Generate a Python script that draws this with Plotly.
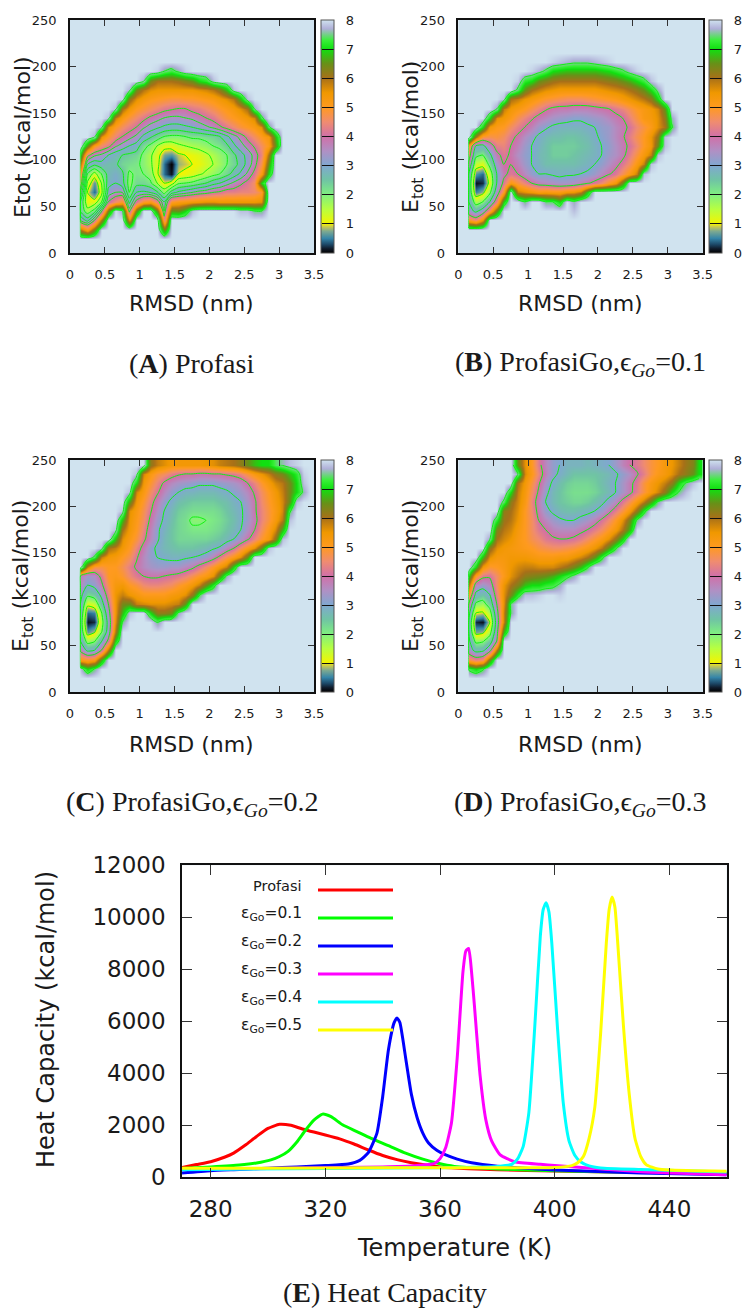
import plotly.graph_objects as go

W, H = 742, 1310
EMPTY = 8.0
RMSD_BINS = [0.14, 0.15, 0.25, 0.35, 0.45, 0.55, 0.65, 0.75, 0.85, 0.95, 1.05, 1.15, 1.25, 1.35, 1.45, 1.55, 1.65, 1.75,
             1.85, 1.95, 2.05, 2.15, 2.25, 2.35, 2.45, 2.55, 2.65, 2.75, 2.85, 2.95, 3.05, 3.15, 3.25, 3.35, 3.45]
ETOT_BINS = [5, 15, 25, 35, 45, 55, 65, 75, 85, 95, 105, 115, 125, 135, 145, 155, 165, 175, 185, 195, 205, 215, 225, 235, 245]

# free energy rows: Etot bin -> (first RMSD column, values)
A_ROWS = {
    195: (12, [7.9,7.5,7.3,7.6,7.9]),
    185: (10, [7.7,6.4,6,6,6,6.1,6.3,6.5,7,7.2,7.8]),
    175: (8, [7.7,6.4,5.9,5.6,5.5,5.5,5.5,5.5,5.5,5.5,5.6,5.7,5.9,6.2,6.8,7.8]),
    165: (7, [7.9,6.2,5.6,5.3,5.1,5,4.9,4.8,4.8,4.9,4.9,5,5.1,5.2,5.4,5.6,5.9,6.8,7.8]),
    155: (6, [7.8,6,5.4,5,4.8,4.6,4.4,4.2,4.1,4,4,4.2,4.3,4.5,4.7,4.9,5.1,5.3,5.6,6,7.6]),
    145: (5, [7.8,5.8,5.2,4.8,4.5,4.2,3.9,3.7,3.5,3.4,3.4,3.5,3.6,3.8,4,4.2,4.5,4.8,5,5.2,5.4,5.7,7.4]),
    135: (4, [7.7,5.6,5,4.6,4.3,4,3.6,3.3,3.1,2.9,2.8,2.8,2.9,3,3.2,3.4,3.6,3.9,4.2,4.5,4.8,5,5.2,5.6,7.4]),
    125: (3, [7.7,5.5,4.9,4.4,4,3.7,3.4,2.9,2.6,2.3,2,1.9,1.9,2,2.1,2.1,2.2,2.3,2.5,2.9,3.3,3.7,4.2,4.6,5,5.3,6.8]),
    115: (2, [6.5,5,4.5,4.2,3.6,3.3,3,2.8,2.2,1.9,1.5,1.2,1.2,1.4,1.5,1.6,1.7,1.8,2,2.1,2.4,2.9,3.3,3.7,4.1,4.6,5.1,6.5]),
    105: (1, [7,4.2,3.6,3.4,3,2.7,2.5,2.4,2.3,1.9,1.6,1.2,0.7,0.6,0.9,1,1.1,1.2,1.4,1.6,1.8,2,2.4,2.8,3.2,3.7,4.4,6]),
    95: (1, [6,3,2.6,2.8,2.6,2.6,2.3,2.2,2.1,1.9,1.6,1.2,0.4,0,0.8,0.9,1,1.1,1.3,1.5,1.7,2,2.3,2.7,3.2,3.8,4.7,6.5]),
    85: (1, [5,2,1.3,2,2.7,2.9,2.6,1.9,2.1,2,1.8,1.1,0.4,0.1,1,1.1,1.2,1.4,1.6,1.8,2,2.3,2.7,3.1,3.6,4.2,5.2,7]),
    75: (1, [4.5,1.4,0.6,1.5,2.8,3,2.7,1.8,2.3,2.3,2.1,1.5,1,1.2,1.9,2,2.1,2.3,2.5,2.8,3,3.3,3.6,3.9,4.2,4.6,7]),
    65: (1, [3.5,1,0.4,1.3,3.2,3.5,3.5,2,3,3.1,3,2.6,1.8,2.7,3.1,3.3,3.5,3.7,3.8,4,4.1,4.3,4.3,4.4,4.4,4.5,4.9]),
    55: (1, [2.5,1.1,1.2,1.9,4,4.6,5,2.8,4.2,5,5.2,4.4,3,5,5.2,5.3,5.4,5.5,5.6,5.6,5.5,5.5,5.5,5.5,5.5,5.5,5.6]),
    45: (1, [2.4,1.7,2.2,3.8,6.5,8,7.6,3.8,6.5,8,8,6.4,3.5,6.6,6.5,7,7.8,8,8,8,8,8,8,7.8,7.8,7.5,7.5]),
    35: (1, [3.5,2.8,4,6,8,8,8,5.5,8,8,8,8,4.4,8]),
    25: (1, [6,5.2,6.5,8,8,8,8,8,8,8,8,8,6.5,8]),
}
B_ROWS = {
    205: (13, [7.9,7.8,7.7,7.6,7.6,7.6,7.7,7.8,7.9]),
    195: (10, [7.9,7.7,7.4,7,6.9,6.8,6.8,6.8,6.8,6.8,6.9,7,7.2,7.4,7.7,7.9]),
    185: (8, [7.9,7.2,7,6.5,6.3,6.1,6,6,6,6,6,6,6.1,6.2,6.3,6.5,6.7,7,7.3,7.8]),
    175: (8, [7.4,6.5,6,5.8,5.6,5.5,5.4,5.4,5.4,5.4,5.4,5.4,5.5,5.6,5.7,5.8,6,6.2,6.5,7,7.6]),
    165: (6, [7.8,6,5.8,5.5,5.3,5.1,4.9,4.8,4.7,4.6,4.6,4.6,4.7,4.8,4.9,5,5.1,5.3,5.5,5.7,5.9,6.2,7]),
    155: (5, [7.6,5.8,5.4,5.2,5,4.7,4.4,4.1,3.9,3.8,3.8,3.7,3.7,3.7,3.8,3.9,4,4.2,4.4,4.7,5,5.2,5.4,5.7,6.5]),
    145: (4, [7,5.6,5.4,5.1,4.7,4.4,4.1,3.8,3.6,3.4,3.3,3.2,3.1,3.1,3.2,3.3,3.4,3.6,3.8,4,4.4,4.8,5.2,5.3,5.6,6.2,7.6]),
    135: (3, [7,5.4,5.1,5,4.6,4.3,4,3.7,3.3,3.1,2.9,2.8,2.8,2.8,2.8,2.9,3,3.2,3.3,3.6,3.8,4.1,4.5,4.8,5.1,5.6,6,7.4]),
    125: (2, [6,4.8,4.7,4.8,4.6,4.2,3.9,3.5,3.2,2.9,2.7,2.6,2.6,2.5,2.5,2.6,2.7,2.9,3.1,3.3,3.6,3.9,4.3,4.7,5,5.5,6.2,7.8]),
    115: (1, [5,3,2.8,3.6,4.3,4.4,4,3.7,3.3,3,2.8,2.6,2.4,2.4,2.4,2.4,2.5,2.6,2.8,3,3.2,3.5,3.8,4.1,4.5,5,5.4,6.5,7.8]),
    105: (1, [4.5,2.2,2,2.8,3.8,4.2,3.9,3.5,3.2,3,2.7,2.6,2.4,2.4,2.4,2.5,2.6,2.7,2.8,3,3.3,3.5,3.8,4.3,4.8,5.3,5.8,7.8]),
    95: (1, [3.8,1.4,1.2,2.2,3.4,4,4,3.7,3.3,3,2.8,2.6,2.6,2.6,2.6,2.6,2.7,2.8,3,3.2,3.5,3.8,4.2,4.6,5.2,5.8,7.8]),
    85: (1, [3,0.6,0.4,1.5,3,3.8,4.2,4,3.6,3.2,3,3,2.9,2.8,2.9,2.9,3,3.1,3.3,3.6,3.9,4.2,4.7,5.2,5.8,7.8]),
    75: (1, [2.8,0.1,0.2,1.2,3,4.2,5.2,4.8,4.4,4,3.7,3.6,3.5,3.4,3.4,3.5,3.7,3.9,4.2,4.5,5,5.4,6.5,8]),
    65: (1, [2.8,0.5,0.8,1.8,3.5,5,8,5.8,5.6,5.4,5.2,5.3,5.2,5.2,5.4,5.5,5.8,7,8]),
    55: (1, [3,1.6,2,3,4.5,7,8,8,7.5,8,8,7.5,7.5,7,8,7.6,8]),
    45: (1, [3.4,2.8,3.4,4.8,6.5,8,8,8,8,8,8,8,8,8,8,7.8]),
    35: (1, [5,4.5,5.5,8]),
}
C_ROWS = {
    245: (11, [6.2,5.8,5.6,5.4,5.4,5.4,5.4,5.4,5.5,5.6,5.8,5.9,6,6.2,6.5,6.8,7,7,7.4,7.6,7.8,7.9]),
    235: (9, [7.8,5.7,5.2,4.8,4.6,4.3,4.1,4,4,3.9,3.9,4,4,4.1,4.2,4.4,4.8,5.2,5.5,5.8,6.2,6.4,6.8,7.2,7.9]),
    225: (9, [7,5.4,4.9,4.4,3.9,3.6,3.4,3.3,3.2,3.1,3.1,3.1,3.2,3.3,3.4,3.6,4,4.4,4.9,5.3,5.7,5.9,6.4,7,7.8]),
    215: (8, [7.8,5.7,5.2,4.6,4.1,3.6,3.2,3,2.8,2.8,2.7,2.7,2.7,2.8,2.9,3.1,3.3,3.6,4.1,4.6,5,5.4,5.8,6.4,7,7.6]),
    205: (8, [6.6,5.4,4.9,4.3,3.7,3.2,2.9,2.6,2.5,2.4,2.4,2.4,2.4,2.5,2.6,2.8,3,3.4,3.9,4.5,4.9,5.3,5.7,6.5,7.8]),
    195: (7, [7.8,5.6,5.2,4.7,4.1,3.5,3,2.7,2.4,2.3,2.2,2.2,2.2,2.2,2.3,2.5,2.7,2.9,3.3,3.9,4.4,4.8,5.2,5.7,7.4,8]),
    185: (7, [6.8,5.5,5.1,4.6,3.9,3.3,2.9,2.6,2.3,2.2,1.9,1.9,2,2.1,2.2,2.4,2.6,2.9,3.3,3.8,4.4,4.8,5.3,5.9,7.8]),
    175: (6, [7.8,6,5.4,5,4.4,3.7,3.1,2.8,2.5,2.3,2.2,2.1,2.1,2.1,2.2,2.3,2.5,2.7,3,3.5,4,4.6,5.1,5.7,6.8]),
    165: (6, [6.8,5.6,5.2,4.8,4.2,3.6,3.1,2.7,2.5,2.3,2.3,2.3,2.3,2.3,2.4,2.5,2.7,3,3.4,3.9,4.4,4.9,5.3,6.2,7.8]),
    155: (4, [7.8,6,5.8,5.4,5,4.4,3.8,3.2,2.9,2.7,2.6,2.5,2.5,2.5,2.6,2.7,2.9,3.1,3.6,4,4.6,5.1,5.6,6.5,7.8]),
    145: (3, [7.4,5.8,5.4,5.3,5,4.7,4.1,3.6,3.2,3,2.9,2.8,2.8,2.9,3,3.1,3.3,3.7,4.2,4.7,5.1,5.6,6.5,8]),
    135: (2, [5.8,4.8,4.8,5,5,4.7,4.3,3.9,3.6,3.4,3.3,3.3,3.4,3.4,3.6,3.8,4.2,4.6,5,5.4,5.8,7,8]),
    125: (1, [3.8,3.3,3.5,4.2,5,5.1,4.9,4.5,4.2,4,3.9,3.9,4,4.1,4.2,4.4,4.7,5,5.2,5.6,6.5,7.6]),
    115: (1, [3.6,3,3.2,3.8,4.8,5.3,5.4,5,4.8,4.5,4.4,4.4,4.5,4.6,4.9,5.1,5.4,5.8,6.5,7.2,8]),
    105: (1, [3.3,2.2,2.4,3.2,4.4,5.5,5.8,5.5,5.3,5.1,5.1,5.1,5.1,5.3,5.4,5.6,6.2,7.4,8]),
    95: (1, [3,1.2,1.4,2.6,4,5.5,6.4,6.5,5.8,5.7,5.6,5.6,5.6,5.7,5.8,6.6,8]),
    85: (1, [2.8,0.4,0.5,1.9,3.6,5.5,6.8,7.8,8,8,7,6.2,6.2,6.4,7.6,8]),
    75: (1, [2.6,0.1,0.2,1.6,3.3,5.6,7.5,8,8,8,8,7.5,8,8,8]),
    65: (1, [2.7,0.6,0.9,1.9,3.4,6,8]),
    55: (1, [3,1.7,1.9,2.9,4.2,7,8]),
    45: (1, [3.8,2.8,3,4,6]),
    35: (1, [5.2,5,5.2,6.8,8]),
    25: (1, [7.8,7,7.5,8]),
}
D_ROWS = {
    245: (8, [6.5,5.6,5,4.2,3.6,3.2,3,2.8,2.8,2.8,2.7,2.8,2.9,3,3.3,3.7,4,4.2,4.5,4.8,5,5.3,5.5,5.8,6.1,6.3,7]),
    235: (8, [7.6,5.7,5.1,4.4,3.7,3.2,2.9,2.7,2.5,2.5,2.5,2.5,2.6,2.7,2.9,3.2,3.5,3.9,4.3,4.8,5.1,5.3,5.6,6,6.2,6.5,7]),
    225: (7, [8,6,5.4,4.8,4.1,3.4,2.9,2.6,2.4,2.3,2.3,2.3,2.4,2.6,2.8,3,3.4,3.8,4.2,4.8,5.2,5.5,5.8,6.2,7,7.5,7.8]),
    215: (7, [7,5.8,5.3,4.6,3.9,3.2,2.7,2.5,2.3,2.2,2.2,2.2,2.3,2.5,2.7,3,3.4,3.8,4.3,4.8,5.3,5.7,6.2,7,7.5,7.8]),
    205: (6, [7.4,6.2,5.7,5.2,4.4,3.7,3,2.7,2.5,2.4,2.3,2.3,2.4,2.6,2.8,3.2,3.6,4.2,4.7,5.3,5.9,6.6,7.5,8]),
    195: (6, [6.2,6,5.6,5,4.5,3.8,3.2,2.9,2.7,2.6,2.6,2.7,2.8,3,3.3,3.8,4.3,4.8,5.4,6.2,7.2,8]),
    185: (5, [7.2,6.1,5.9,5.5,5,4.6,4,3.6,3.3,3.1,3,3,3.2,3.4,3.7,4.1,4.5,5,5.6,6.4,7.5]),
    175: (5, [6.3,5.9,5.7,5.3,5,4.6,4.2,4,3.7,3.6,3.6,3.6,3.8,4,4.3,4.6,5,5.4,6,6.8,8]),
    165: (4, [7.6,6,5.7,5.5,5.2,5,4.7,4.5,4.2,4.1,4,4,4.1,4.3,4.6,4.9,5.2,5.6,6.2,7,8]),
    155: (4, [6.2,5.6,5.4,5.3,5.2,5.1,5,4.8,4.7,4.6,4.6,4.7,4.8,5,5.2,5.5,5.9,6.6,7.4]),
    145: (3, [6.8,5.6,5.3,5.3,5.4,5.4,5.4,5.3,5.2,5.2,5.2,5.3,5.3,5.5,5.7,6,6.5,7.3,8]),
    135: (2, [7,5.4,4.9,5,5.2,5.5,5.7,5.8,5.8,5.7,5.7,5.7,5.9,6.1,6.4,6.8,7.4,8]),
    125: (1, [7,5,4.2,4.1,4.6,5.1,5.6,5.9,6.2,6.3,6.4,6.5,6.7,7,7.3,7.6,8]),
    115: (1, [6,3.6,3.3,3.6,4.6,5.5,6,6.3,6.8,7,7,7.2,7.3,7.6,8]),
    105: (1, [5,2.8,2.5,3,4.4,5.6,6.4,7.2,7.8,7.8,7.9,8,8,7.9]),
    95: (1, [4,1.9,1.7,2.4,4,5.6,7.5,8]),
    85: (1, [3.3,1,0.9,1.6,3.6,5.8,7.5,8]),
    75: (1, [3,0.2,0.1,1,3.4,5.8,8]),
    65: (1, [3,0.7,0.8,1.6,3.6,6.8]),
    55: (1, [3.2,1.8,1.9,2.5,4,8]),
    45: (1, [3.5,2.7,2.8,3.6,6]),
    35: (1, [4.8,4.4,4.6,6.5]),
    25: (1, [7.4,7,7.4,8]),
}

# heat capacity curves
PROFASI_T = [270,275,280,285,288,292,296,300,304,308,312,316,320,325,330,335,340,345,350,355,360,370,380,400,430,460]
PROFASI_CV = [380,490,600,780,930,1230,1570,1880,2040,2000,1860,1740,1630,1480,1280,1050,840,680,560,470,400,330,290,240,190,150]
GO01_T = [270,280,290,296,301,304,307,310,313,316,319,322,326,331,336,342,348,354,359,365,380,400,430,460]
GO01_CV = [340,400,470,550,670,800,1000,1350,1800,2200,2430,2330,2020,1760,1500,1220,930,700,550,420,320,250,190,160]
GO02_T = [270,280,290,300,310,320,328,332,335,338,340,342,344,345,346,348,350,352,354,356,359,362,366,371,380,400,430,460]
GO02_CV = [165,255,300,350,400,450,510,650,950,1700,3100,4900,5950,6130,5950,4600,3200,2300,1700,1320,1030,860,700,560,430,280,170,100]
GO03_T = [270,300,340,350,356,358,360,362,364,366,368,369,370,371,372,374,376,378,381,386,395,400,430,460]
GO03_CV = [300,340,400,430,490,530,720,1150,2100,4600,7900,8700,8800,7900,6600,3900,2200,1400,860,600,500,450,215,100]
GO04_T = [270,320,360,380,385,387,389,391,393,395,396,397,398,399,401,403,405,407,409,412,416,430,460]
GO04_CV = [290,340,370,420,500,700,1180,2500,5700,9300,10300,10560,10200,9000,5700,2850,1400,850,600,440,360,300,200]
GO05_T = [270,320,360,400,406,408,410,412,414,416,418,419,420,421,422,424,426,428,430,432,436,440,460]
GO05_CV = [345,360,370,380,450,560,800,1500,2700,5500,9000,10300,10780,10400,9000,5800,3200,1500,800,480,320,280,230]

LEGEND_LABELS = ["Profasi", "ε<sub>Go</sub>=0.1", "ε<sub>Go</sub>=0.2", "ε<sub>Go</sub>=0.3", "ε<sub>Go</sub>=0.4", "ε<sub>Go</sub>=0.5"]
CAPTIONS = ["(<b>A</b>) Profasi", "(<b>B</b>) ProfasiGo,ϵ<sub><i>Go</i></sub>=0.1", "(<b>C</b>) ProfasiGo,ϵ<sub><i>Go</i></sub>=0.2",
            "(<b>D</b>) ProfasiGo,ϵ<sub><i>Go</i></sub>=0.3", "(<b>E</b>) Heat Capacity"]

RMSD_TICKS = [0, 0.5, 1, 1.5, 2, 2.5, 3, 3.5]
RMSD_TICKTEXT = ["0", "0.5", "1", "1.5", "2", "2.5", "3", "3.5"]
ETOT_TICKS = [0, 50, 100, 150, 200, 250]
CBAR_TICKS = [0, 1, 2, 3, 4, 5, 6, 7, 8]
TEMP_TICKS = [280, 320, 360, 400, 440]
CV_TICKS = [0, 2000, 4000, 6000, 8000, 10000, 12000]

BG = "#d0e3ef"
SCALE_Z = [0, 0.15, 0.3, 0.5, 0.75, 0.9, 1, 1.5, 2, 2.5, 3, 3.5, 4, 4.5, 5, 5.5, 6, 6.5, 7, 7.3, 7.7, 8]
SCALE_C = ["#000000", "#101c2c", "#1d4a6a", "#3585a8", "#7faa90", "#c8c850", "#f4f400", "#b8ff40", "#80f080", "#70c4a4",
           "#80a8d0", "#b090c4", "#d070a8", "#f08c70", "#ff9a20", "#f09800", "#a87018", "#689018", "#10e010", "#38f038",
           "#b0b0d8", BG]
COLORSCALE = [[z / 8, c] for z, c in zip(SCALE_Z, SCALE_C)]

PANELS = [
    dict(rows=A_ROWS, box=(70, 314, 20, 253), cb=(320.5, 233), levels=(1, 4, 0.5), title="Etot (kcal/mol)", tx=23, ty=137, xt=(191, 304)),
    dict(rows=B_ROWS, box=(458.3, 702.7, 20, 253), cb=(708.5, 233), levels=(1, 4, 1), title="E<sub>tot</sub> (kcal/mol)", tx=413, ty=137, xt=(580, 304)),
    dict(rows=C_ROWS, box=(70, 314, 460, 692), cb=(320.5, 232), levels=(1, 4, 1), title="E<sub>tot</sub> (kcal/mol)", tx=23, ty=576, xt=(191, 744)),
    dict(rows=D_ROWS, box=(458.3, 702.7, 460, 692), cb=(708.5, 232), levels=(1, 4, 1), title="E<sub>tot</sub> (kcal/mol)", tx=413, ty=576, xt=(580, 744)),
]
CAPTION_POS = [(191, 363), (580, 363), (192, 803), (580, 803), (385, 1292)]
FONT = "DejaVu Sans"
SERIF = "Liberation Serif"
INK = "#1a1a1a"


def build_z(rows):
    z = []
    for y in ETOT_BINS:
        row = [EMPTY] * len(RMSD_BINS)
        if y in rows:
            start, vals = rows[y]
            for k, v in enumerate(vals):
                if start + k < len(row):
                    row[start + k] = v
        z.append(row)
    return z


fig = go.Figure()
layout = dict(width=W, height=H, autosize=False, margin=dict(l=0, r=0, t=0, b=0, autoexpand=False), paper_bgcolor="white",
              plot_bgcolor=BG, showlegend=False, font=dict(family=FONT, color=INK))
ann = []


def label(text, x, y, size, family=FONT, angle=0, anchor="center"):
    return dict(text=text, x=x / W, y=1 - y / H, xref="paper", yref="paper", xanchor=anchor, yanchor="middle", showarrow=False,
                textangle=angle, font=dict(size=size, family=family, color=INK))


def axis_common(size, tl):
    return dict(showgrid=False, zeroline=False, showline=True, linecolor="#111111", linewidth=1.5, mirror="allticks",
                ticks="inside", ticklen=tl, tickwidth=1.2, tickcolor="#333333", tickfont=dict(size=size, family=FONT, color=INK))


for n, p in enumerate(PANELS, start=1):
    x0, x1, y0, y1 = p["box"]
    z = build_z(p["rows"])
    xa, ya = f"x{n}", f"y{n}"
    fig.add_trace(go.Heatmap(x=RMSD_BINS, y=ETOT_BINS, z=z, xaxis=xa, yaxis=ya, zmin=0, zmax=8, zsmooth="best",
                             colorscale=COLORSCALE, showscale=True, hoverinfo="skip",
                             colorbar=dict(x=p["cb"][0] / W, xanchor="left", xref="paper", y=1 - y1 / H, yanchor="bottom",
                                           yref="paper", len=p["cb"][1] / H, lenmode="fraction", thickness=12.5,
                                           thicknessmode="pixels", xpad=0, ypad=0, tickmode="array", tickvals=CBAR_TICKS,
                                           ticktext=["\u00a0\u00a0" + str(t) for t in CBAR_TICKS], ticks="inside", ticklen=12.5, tickwidth=1,
                                           tickcolor="#111111", outlinecolor="#555555", outlinewidth=1,
                                           tickfont=dict(size=13, family=FONT, color=INK))))
    s, e, st = p["levels"]
    fig.add_trace(go.Contour(x=RMSD_BINS, y=ETOT_BINS, z=z, xaxis=xa, yaxis=ya, showscale=False, hoverinfo="skip",
                             contours=dict(coloring="none", start=s, end=e, size=st),
                             line=dict(color="#10f010", width=1, smoothing=0.6)))
    fig.add_trace(go.Contour(x=RMSD_BINS, y=ETOT_BINS, z=z, xaxis=xa, yaxis=ya, showscale=False, hoverinfo="skip",
                             contours=dict(coloring="none", start=7.5, end=7.5, size=1),
                             line=dict(color="#10f010", width=1, smoothing=0.6)))
    suffix = "" if n == 1 else str(n)
    layout["xaxis" + suffix] = dict(axis_common(13, 6), domain=[x0 / W, x1 / W], anchor=ya, range=[0, 3.5], tickmode="array",
                                    tickvals=RMSD_TICKS, ticktext=RMSD_TICKTEXT, ticklabelstandoff=9)
    layout["yaxis" + suffix] = dict(axis_common(13, 6), domain=[1 - y1 / H, 1 - y0 / H], anchor=xa, range=[0, 250], tickmode="array",
                                    tickvals=ETOT_TICKS, ticklabelstandoff=9)
    ann.append(label("RMSD (nm)", p["xt"][0], p["xt"][1], 22))
    ann.append(label(p["title"], p["tx"], p["ty"], 22, angle=-90))

# heat capacity panel
CURVES = [(PROFASI_T, PROFASI_CV, "#ff0000"), (GO01_T, GO01_CV, "#00ff00"), (GO02_T, GO02_CV, "#0000ff"),
          (GO03_T, GO03_CV, "#ff00ff"), (GO04_T, GO04_CV, "#00ffff"), (GO05_T, GO05_CV, "#ffff00")]
shapes = []
LEG_Y = [890, 918, 946, 974, 1002, 1030]
for k, (lab, (t, c, col), ly) in enumerate(zip(LEGEND_LABELS, CURVES, LEG_Y)):
    fig.add_trace(go.Scatter(x=t, y=c, mode="lines", xaxis="x5", yaxis="y5", name=lab.replace("<sub>", "").replace("</sub>", ""),
                             line=dict(color=col, width=3, shape="spline", smoothing=0.5), hoverinfo="skip"))
    shapes.append(dict(type="line", xref="paper", yref="paper", x0=318 / W, x1=393 / W, y0=1 - ly / H, y1=1 - ly / H,
                       line=dict(color=col, width=3)))
    ann.append(label(lab, 304, ly - 4, 14.5 if k == 0 else 15.5, anchor="right"))

layout["xaxis5"] = dict(axis_common(23, 10), domain=[182 / W, 726.7 / W], anchor="y5", range=[270, 460], tickmode="array",
                        tickvals=TEMP_TICKS, ticklabelstandoff=10)
layout["yaxis5"] = dict(axis_common(23, 10), domain=[1 - 1177.3 / H, 1 - 865.3 / H], anchor="x5", range=[0, 12000], tickmode="array",
                        tickvals=CV_TICKS, ticktext=[str(t) for t in CV_TICKS], ticklabelstandoff=10)
ann.append(label("Temperature (K)", 454, 1248, 24))
ann.append(label("Heat Capacity (kcal/mol)", 46, 1020, 24, angle=-90))
for cap, (cx, cy) in zip(CAPTIONS, CAPTION_POS):
    ann.append(label(cap, cx, cy, 28, family=SERIF))

# white ground behind the heat capacity panel
shapes.append(dict(type="rect", xref="x5 domain", yref="y5 domain", x0=0, x1=1, y0=0, y1=1, fillcolor="white", line=dict(width=0), layer="below"))
layout["annotations"] = ann
layout["shapes"] = shapes
fig.update_layout(**layout)
fig.write_html("out.html", config=dict(displayModeBar=False),
               post_script="document.body.style.margin='0';document.documentElement.style.overflow='hidden';")
